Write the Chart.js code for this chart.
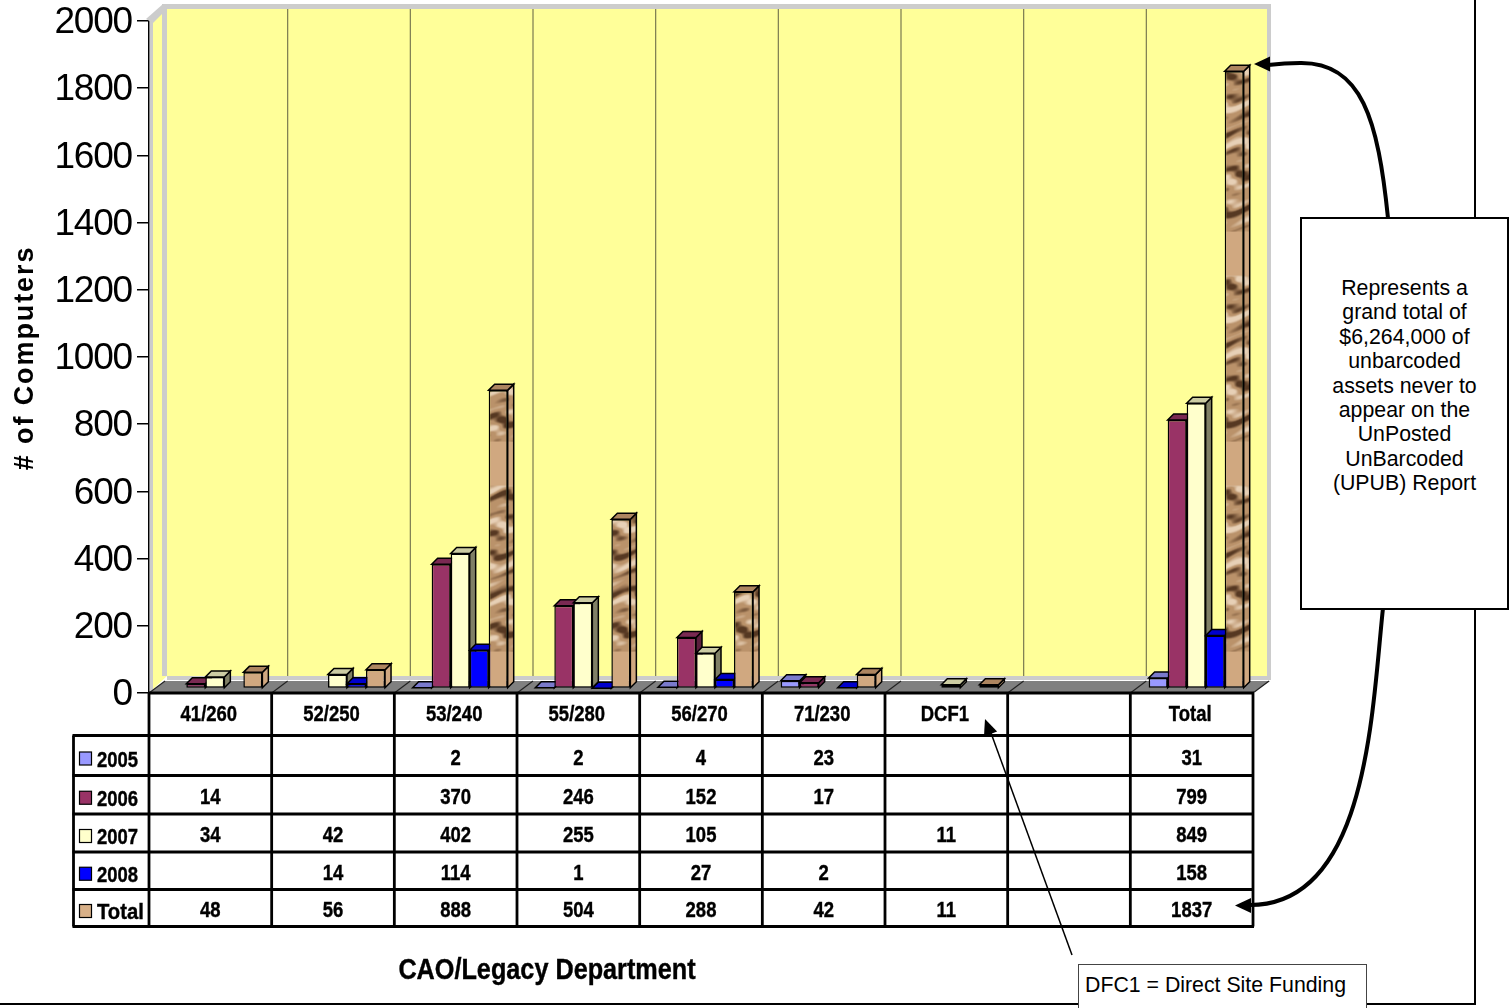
<!DOCTYPE html>
<html lang="en">
<head>
<meta charset="UTF-8">
<title># of Computers by CAO/Legacy Department</title>
<script src="https://cdnjs.cloudflare.com/ajax/libs/Chart.js/4.4.1/chart.umd.min.js"></script>
<style>
  html, body { margin: 0; padding: 0; background: #fff; overflow: hidden; }
  #wrap { position: relative; width: 1510px; height: 1008px; }
  canvas { position: absolute; left: 0; top: 0; }
  .box { position: absolute; box-sizing: border-box; background: #fff; color: #000; font-family: "Liberation Sans", Arial, sans-serif; }
  #note { left: 1300px; top: 217px; width: 209px; height: 393px; border: 2px solid #000; font-size: 21.3px; line-height: 24.4px; text-align: center; padding: 57px 0 0; }
  #dfc { left: 1078px; top: 964px; width: 289px; height: 50px; border: 1.5px solid #444; font-size: 21.3px; line-height: 24px; padding: 8px 0 0 6px; white-space: nowrap; }
  #pageRight { position: absolute; left: 1474px; top: 0; width: 2px; height: 1004px; background: #000; }
  #pageBottom { position: absolute; left: 0; top: 1003px; width: 1476px; height: 2px; background: #000; }
</style>
</head>
<body>
<div id="wrap">
  <div id="pageRight"></div>
  <div id="pageBottom"></div>
  <canvas id="myChart" width="1510" height="1008"></canvas>
  <div class="box" id="note">Represents a<br>grand total of<br>$6,264,000 of<br>unbarcoded<br>assets never to<br>appear on the<br>UnPosted<br>UnBarcoded<br>(UPUB) Report</div>
  <div class="box" id="dfc">DFC1 = Direct Site Funding</div>
</div>
<script>
const categories = ["41/260", "52/250", "53/240", "55/280", "56/270", "71/230", "DCF1", "", "Total"];
const yTitle = "# of Computers";
const xTitle = "CAO/Legacy Department";
const series2005 = [null, null, 2, 2, 4, 23, null, null, 31];
const series2006 = [14, null, 370, 246, 152, 17, null, null, 799];
const series2007 = [34, 42, 402, 255, 105, null, 11, null, 849];
const series2008 = [null, 14, 114, 1, 27, 2, null, null, 158];
const seriesTotal = [48, 56, 888, 504, 288, 42, 11, null, 1837];
const seriesNames = ["2005", "2006", "2007", "2008", "Total"];

const ARIAL = '"Liberation Sans", Arial, sans-serif';
const DX = 16, DY = 12;     // depth of the 3d box
const BAR_D = 6;            // depth of one bar
const BAR_SHIFT = 4.5;      // bars stand a little behind the front edge

// marbled brown fill of the Total bars
function makeWood() {
    const c = document.createElement("canvas");
    c.width = 40; c.height = 210;
    const g = c.getContext("2d");
    const k = 2 * Math.PI / 210;
    for (let y = 0; y < 210; y++) {
        const quiet = y > 25 && y < 70;
        for (let x = 0; x < 40; x++) {
            const w = 1.2 * Math.sin(x * 0.157 + y * k * 2);
            let v = Math.sin(y * k * 11 + w) + 0.7 * Math.sin(y * k * 5 + w + 1) + 0.35 * Math.sin(y * k * 23 + x * 0.314);
            if (quiet) v *= 0.12;
            let r = quiet ? 208 : 186, gg = quiet ? 168 : 146, b = quiet ? 128 : 106;
            if (v > 0.3) { const t = Math.min(1, (v - 0.3) / 1.1); r -= 100 * t; gg -= 90 * t; b -= 72 * t; }
            if (v < -0.4) { const t = Math.min(1, (-v - 0.4) / 1); r += 45 * t; gg += 62 * t; b += 76 * t; }
            g.fillStyle = "rgb(" + (r | 0) + "," + (gg | 0) + "," + (b | 0) + ")";
            g.fillRect(x, y, 1, 1);
        }
    }
    return c;
}
const ctx0 = document.getElementById("myChart").getContext("2d");
const wood = ctx0.createPattern(makeWood(), "repeat");

const fronts = ["#9999FF", "#993366", "#FFFFCC", "#0000FF", wood];
const tops = ["#7A7ACC", "#7A2952", "#CCCCA3", "#0000CC", "#AD8560"];
const sides = ["#5C5C99", "#5C1F3D", "#808066", "#000080", wood];
const swatches = ["#9999FF", "#993366", "#FFFFCC", "#0000FF", "#D8B088"];

function poly(ctx, pts, fill, stroke, lw) {
    ctx.beginPath();
    pts.forEach((p, i) => i ? ctx.lineTo(p[0], p[1]) : ctx.moveTo(p[0], p[1]));
    ctx.closePath();
    if (fill) { ctx.fillStyle = fill; ctx.fill(); }
    if (stroke) { ctx.strokeStyle = stroke; ctx.lineWidth = lw || 1; ctx.stroke(); }
}

function line(ctx, x1, y1, x2, y2, color, lw) {
    ctx.beginPath();
    ctx.moveTo(x1, y1);
    ctx.lineTo(x2, y2);
    ctx.strokeStyle = color;
    ctx.lineWidth = lw;
    ctx.stroke();
}

function arrowHead(ctx, tipX, tipY, angle, len, half) {
    ctx.save();
    ctx.translate(tipX, tipY);
    ctx.rotate(angle);
    ctx.beginPath();
    ctx.moveTo(0, 0);
    ctx.lineTo(len, -half);
    ctx.lineTo(len, half);
    ctx.closePath();
    ctx.fillStyle = "#000";
    ctx.fill();
    ctx.restore();
}

// no narrow face is installed, so squeeze the bold one
function narrowText(ctx, text, x, y, sx) {
    ctx.save();
    ctx.translate(x, y);
    ctx.scale(sx, 1);
    ctx.strokeStyle = "#000";
    ctx.lineWidth = 0.4;
    ctx.fillText(text, 0, 0);
    ctx.strokeText(text, 0, 0);
    ctx.restore();
}

const box3d = {
    id: "box3d",
    beforeDraw(chart) {
        chart.ctx.letterSpacing = "-1.2px";   // tick labels
    },
    // walls, floor, then the bars left to right so each covers its neighbour's side
    beforeDatasetsDraw(chart) {
        const { ctx, chartArea: a } = chart;
        ctx.letterSpacing = "0px";
        const L = a.left, R = a.right, T = a.top, B = a.bottom;
        const catW = (R - L) / categories.length;
        const backL = L + DX + 2, backR = R + 14, backT = T - 12, backB = B - 17;
        ctx.save();
        ctx.fillStyle = "#FFFF99";
        ctx.fillRect(backL, backT, backR - backL, backB - backT);
        poly(ctx, [[L + 2, T], [backL, backT], [backL, backB], [L + 2, B - 2]], "#FFFF99");
        // frame of the walls
        ctx.fillStyle = "#CCCCCC";
        ctx.fillRect(backL - 4, backT - 5, backR - backL + 8, 5);
        ctx.fillRect(backR, backT - 5, 4, backB - backT + 9);
        ctx.fillRect(backL - 5, backT - 5, 5, backB - backT + 5);
        ctx.fillRect(L + 1, T, 3, B - T);
        poly(ctx, [[L - 3, T - 2], [backL - 4, backT - 5], [backL, backT], [L + 4, T + 2]], "#CCCCCC");
        ctx.fillRect(backL, backB, backR - backL + 4, 4);
        // grid lines on the back wall
        for (let i = 1; i < categories.length; i++) {
            const x = L + i * catW + DX;
            line(ctx, x, backT, x, backB, "#7A7A50", 1.2);
        }
        // floor
        poly(ctx, [[L, B], [L + DX, B - DY], [R + 17, B - DY], [R, B]], "#808080");
        for (let i = 0; i <= categories.length; i++) {
            const x = L + i * catW;
            line(ctx, x, B, x + DX, B - DY, "#222", 1.2);
        }
        ctx.restore();

        ctx.save();
        ctx.translate(BAR_SHIFT, -BAR_SHIFT);
        chart.data.datasets.forEach((ds, n) => {
            const meta = chart.getDatasetMeta(n);
            meta.data.forEach((el, i) => {
                if (ds.data[i] == null) return;
                const p = el.getProps(["x", "y", "base", "width"], true);
                const l = p.x - p.width / 2, r = p.x + p.width / 2;
                poly(ctx, [[r, p.y], [r + BAR_D, p.y - BAR_D], [r + BAR_D, p.base - BAR_D], [r, p.base]], sides[n], "#000", 1.5);
                poly(ctx, [[l, p.y], [l + BAR_D, p.y - BAR_D], [r + BAR_D, p.y - BAR_D], [r, p.y]], tops[n], "#000", 1.5);
            });
            meta.controller.draw();
        });
        ctx.restore();
        return false;
    },
    // data table, axis titles and the arrows
    afterDraw(chart) {
        const { ctx, chartArea: a } = chart;
        const L = a.left, R = a.right, B = a.bottom;
        const catW = (R - L) / categories.length;
        const rowY = [735.5, 775.5, 814, 852, 889.5, 926.5];
        const rows = [series2005, series2006, series2007, series2008, seriesTotal];
        const tableLeft = 73.5;
        ctx.save();
        ctx.fillStyle = "#fff";
        ctx.fillRect(L, B, R - L, 934 - B);
        ctx.fillRect(tableLeft, rowY[0], L - tableLeft, rowY[5] - rowY[0]);
        // rules
        line(ctx, L, B, R + 1, B, "#000", 2.8);
        rowY.forEach(y => line(ctx, tableLeft - 1, y, R + 1, y, "#000", 2.8));
        line(ctx, tableLeft, rowY[0], tableLeft, rowY[5], "#000", 2.8);
        for (let i = 0; i <= categories.length; i++) {
            const x = L + i * catW;
            line(ctx, x, B, x, rowY[5], "#000", 2.8);
        }
        // header and values
        ctx.fillStyle = "#000";
        ctx.textBaseline = "middle";
        ctx.textAlign = "center";
        ctx.font = "bold 22px " + ARIAL;
        categories.forEach((c, i) => narrowText(ctx, c, L + (i + 0.5) * catW - 1.5, 714.5, 0.84));
        rows.forEach((row, r) => {
            const y = (rowY[r] + rowY[r + 1]) / 2 + 3;
            row.forEach((v, i) => {
                if (v != null) narrowText(ctx, String(v), L + (i + 0.5) * catW, y, 0.84);
            });
        });
        // legend column
        ctx.textAlign = "left";
        seriesNames.forEach((name, r) => {
            const y = (rowY[r] + rowY[r + 1]) / 2 + 3;
            ctx.fillStyle = swatches[r];
            ctx.fillRect(79.5, y - 6.5, 12, 13);
            ctx.strokeStyle = "#000";
            ctx.lineWidth = 1.2;
            ctx.strokeRect(79.5, y - 6.5, 12, 13);
            ctx.fillStyle = "#000";
            narrowText(ctx, name, 97, y + 2, name === "Total" ? 0.92 : 0.84);
        });
        // axis titles
        ctx.textAlign = "center";
        ctx.font = "bold 29px " + ARIAL;
        narrowText(ctx, xTitle, 547, 971, 0.87);
        ctx.save();
        ctx.translate(26, 358);
        ctx.rotate(-Math.PI / 2);
        ctx.font = "bold 27px " + ARIAL;
        ctx.letterSpacing = "1.9px";
        ctx.fillText(yTitle, 0, 0);
        ctx.restore();
        // arrow from the note to the Total bar
        ctx.lineCap = "round";
        ctx.strokeStyle = "#000";
        ctx.lineWidth = 4;
        ctx.beginPath();
        ctx.moveTo(1388, 218);
        ctx.bezierCurveTo(1378, 120, 1362, 62, 1300, 63);
        ctx.quadraticCurveTo(1285, 63, 1268, 65);
        ctx.stroke();
        arrowHead(ctx, 1254, 64, 0, 16, 7.5);
        // arrow from the note to the table total
        ctx.beginPath();
        ctx.moveTo(1383, 608);
        ctx.bezierCurveTo(1372, 710, 1368, 905, 1250, 905);
        ctx.stroke();
        arrowHead(ctx, 1235, 905.5, 0, 16, 7.5);
        // leader from the DFC1 note
        ctx.lineCap = "butt";
        line(ctx, 991, 733, 1072, 955, "#000", 1.5);
        arrowHead(ctx, 985, 719, Math.atan2(236, 87), 16, 7);
        ctx.restore();
    }
};

new Chart("myChart", {
    type: "bar",
    data: {
        labels: categories,
        datasets: [series2005, series2006, series2007, series2008, seriesTotal].map((d, i) => ({
            label: seriesNames[i],
            data: d,
            backgroundColor: fronts[i],
            borderColor: "#000",
            borderWidth: 1.5,
            borderSkipped: false,
            categoryPercentage: 0.775,
            barPercentage: 1,
            clip: false
        }))
    },
    options: {
        responsive: false,
        animation: false,
        devicePixelRatio: 1,
        layout: { autoPadding: false, padding: { left: 0, right: 257, top: 21, bottom: 315 } },
        plugins: { legend: { display: false }, tooltip: { enabled: false } },
        scales: {
            x: { display: false },
            y: {
                min: 0,
                max: 2000,
                afterFit: s => { s.width = 149; s.paddingTop = 0; s.paddingBottom = 0; },
                ticks: { stepSize: 200, color: "#000", padding: 5, labelOffset: 2, font: { family: ARIAL, size: 37 }, callback: v => String(v) },
                grid: { drawOnChartArea: false, color: "#000", tickLength: 12, lineWidth: 1.5 },
                border: { color: "#000", width: 1.5 }
            }
        }
    },
    plugins: [box3d]
});
</script>
</body>
</html>
